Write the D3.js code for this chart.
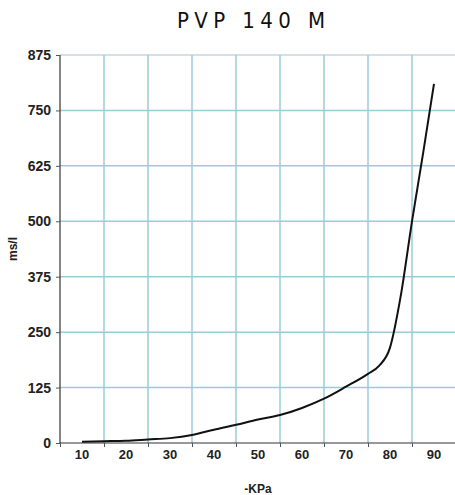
<!DOCTYPE html>
<html>
<head>
<meta charset="utf-8">
<script src="https://cdn.jsdelivr.net/npm/d3@7"></script>
<style>
  html, body { margin: 0; padding: 0; background: #fff; }
  svg { display: block; }
</style>
</head>
<body>
<script>
// ---- data ----
const title = "PVP 140 M";
const xLabel = "-KPa";
const yLabel = "ms/l";
const pressure = [10, 15, 20, 25, 30, 35, 40, 45, 50, 55, 60, 65, 70, 75, 77.5, 80, 82.5, 85, 87.5, 90];
const flowTime = [3, 4, 5, 8, 11, 18, 30, 41, 53, 63, 79, 100, 127, 156, 174, 215, 335, 500, 652, 810];
const xTickLabels = [10, 20, 30, 40, 50, 60, 70, 80, 90];
const xGridValues = [5, 15, 25, 35, 45, 55, 65, 75, 85, 95];
const yTickValues = [0, 125, 250, 375, 500, 625, 750, 875];

(function () {
const W = 455, H = 495;
const mLeft = 60, mRight = 456, mTop = 55, mBottom = 443;

const svg = d3.select("body").append("svg").attr("width", W).attr("height", H);

const x = d3.scaleLinear().domain([5, 95]).range([mLeft, mRight]);
const y = d3.scaleLinear().domain([0, 875]).range([mBottom, mTop]);

const gridColor = "#9ccbd8";
const labelFont = "'Liberation Sans', Arial, sans-serif";

// grid lines
svg.append("g").selectAll("line").data(yTickValues.filter(v => v > 0)).join("line")
  .attr("x1", mLeft).attr("x2", mRight)
  .attr("y1", d => y(d)).attr("y2", d => y(d))
  .attr("stroke", d => d === 875 ? "#c9d6da" : gridColor).attr("stroke-width", 1.5);
svg.append("g").selectAll("line").data(xGridValues.filter(v => v > 5)).join("line")
  .attr("x1", d => x(d)).attr("x2", d => x(d))
  .attr("y1", mTop).attr("y2", mBottom)
  .attr("stroke", gridColor).attr("stroke-width", 1.5);

// y axis
const yAxis = d3.axisLeft(y).tickValues(yTickValues).tickSize(4).tickPadding(5);
const gy = svg.append("g").attr("transform", `translate(${mLeft},0)`).call(yAxis);
gy.select(".domain").attr("stroke", "#333").attr("stroke-width", 1.2).attr("d", `M0,${mTop}V${mBottom}`);
gy.selectAll(".tick line").attr("stroke", "#555");
gy.selectAll(".tick text").attr("font-family", labelFont).attr("font-weight", "bold")
  .attr("font-size", 14).attr("fill", "#222");

// x axis: ticks at grid boundaries, labels centered between
const xAxis = d3.axisBottom(x).tickValues(xGridValues).tickSize(4).tickFormat("");
const gx = svg.append("g").attr("transform", `translate(0,${mBottom})`).call(xAxis);
gx.select(".domain").attr("stroke", "#333").attr("stroke-width", 1.2).attr("d", `M${mLeft},0H${mRight}`);
gx.selectAll(".tick line").attr("stroke", "#555");

svg.append("g").selectAll("text").data(xTickLabels).join("text")
  .attr("x", d => x(d)).attr("y", 459)
  .attr("text-anchor", "middle")
  .attr("font-family", labelFont).attr("font-weight", "bold").attr("font-size", 13)
  .attr("fill", "#222")
  .text(d => d);

// axis titles
svg.append("text")
  .attr("x", (mLeft + mRight) / 2).attr("y", 493)
  .attr("text-anchor", "middle")
  .attr("font-family", labelFont).attr("font-weight", "bold").attr("font-size", 12)
  .attr("fill", "#222").text(xLabel);

svg.append("text")
  .attr("transform", `translate(17,${(mTop + mBottom) / 2}) rotate(-90)`)
  .attr("text-anchor", "middle")
  .attr("font-family", labelFont).attr("font-weight", "bold").attr("font-size", 12)
  .attr("fill", "#222").text(yLabel);

// chart title
svg.append("text")
  .attr("x", 177).attr("y", 28)
  .attr("textLength", 148).attr("lengthAdjust", "spacing")
  .attr("font-family", "'DejaVu Sans Condensed', 'Liberation Sans Narrow', 'Roboto Condensed', 'Liberation Sans', sans-serif")
  .attr("font-stretch", "condensed")
  .attr("font-size", 22)
  .attr("fill", "#111")
  .text(title);

// curve
const line = d3.line()
  .x((d, i) => x(pressure[i]))
  .y(d => y(d))
  .curve(d3.curveMonotoneX);
svg.append("path")
  .datum(flowTime)
  .attr("d", line)
  .attr("fill", "none")
  .attr("stroke", "#111")
  .attr("stroke-width", 2);
})();
</script>
</body>
</html>
